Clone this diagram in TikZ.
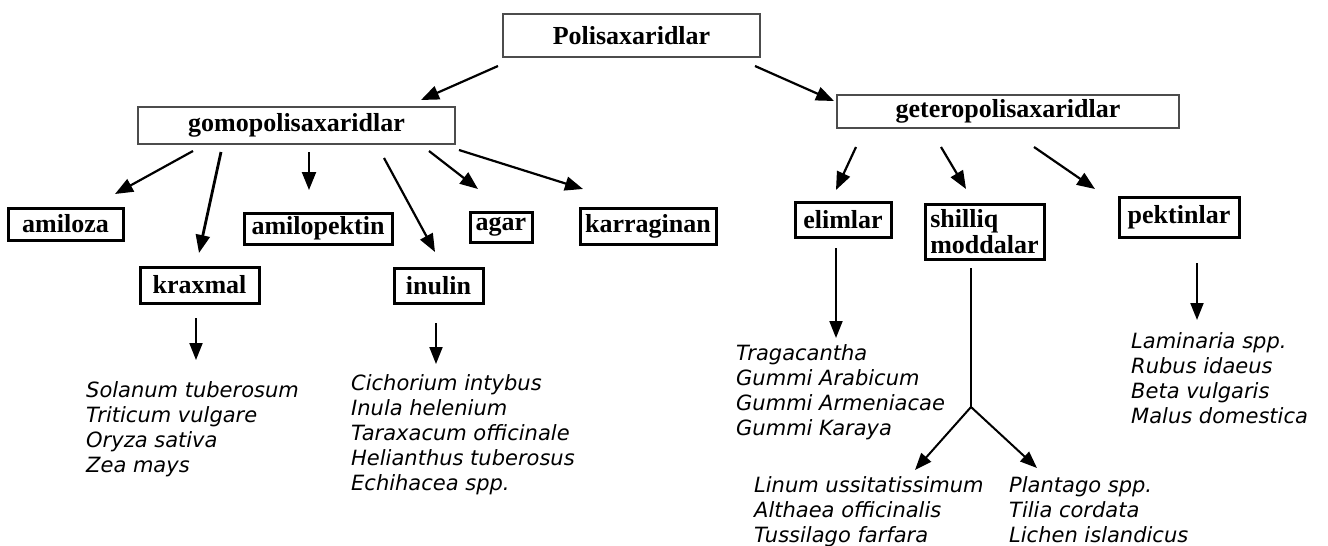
\documentclass[tikz,border=0pt]{standalone}
\usepackage{fontspec}
\setmainfont{Liberation Serif}
\newfontfamily\listfont{DejaVu Sans}
\usetikzlibrary{arrows.meta}
\begin{document}
\begin{tikzpicture}[x=1pt,y=-1pt,
  topbox/.style={draw=black!70, line width=1.8pt, inner sep=0pt, font=\fontsize{26}{30}\selectfont\bfseries},
  leafbox/.style={draw=black, line width=3pt, inner sep=0pt, font=\fontsize{26}{26}\selectfont\bfseries},
  species/.style={anchor=north west, inner sep=0pt, align=left, font=\listfont\itshape\fontsize{21}{25}\selectfont},
  arr/.style={-{Triangle[length=18pt,width=14pt]}, line width=2.2pt},
  arrs/.style={-{Triangle[length=17pt,width=13pt]}, line width=2pt}]
\useasboundingbox (0,0) rectangle (1328,546);

% main boxes
\node[topbox, minimum width=257pt, minimum height=43pt] (poli) at (631.5,35.5) {Polisaxaridlar};
\node[topbox, minimum width=317pt, minimum height=37pt] (gomo) at (296.5,125.5) {gomopolisaxaridlar};
\node[topbox, minimum width=342pt, minimum height=33pt] (getero) at (1008,111.5) {geteropolisaxaridlar};

% leaf boxes
\node[leafbox, minimum width=115pt, minimum height=32pt] (amiloza) at (65.5,224) {amiloza};
\node[leafbox, minimum width=119pt, minimum height=36pt] (kraxmal) at (199.5,285) {kraxmal};
\node[leafbox, minimum width=148pt, minimum height=31pt] (amilopektin) at (318,228.5) {amilopektin};
\node[leafbox, minimum width=89pt, minimum height=35pt] (inulin) at (438.5,285.5) {inulin};
\node[leafbox, minimum width=62pt, minimum height=30pt] (agar) at (501,227) {agar};
\node[leafbox, minimum width=136pt, minimum height=36pt] (karraginan) at (648,226) {karraginan};
\node[leafbox, minimum width=96pt, minimum height=35pt] (elimlar) at (843,219.5) {elimlar};
\node[leafbox, minimum width=119pt, minimum height=55pt, align=left] (shilliq) at (984.5,231.5) {shilliq\\moddalar};
\node[leafbox, minimum width=120pt, minimum height=40pt] (pektinlar) at (1179,217) {pektinlar};

% species lists
\node[species] (solanum) at (86,381) {Solanum tuberosum\\Triticum vulgare\\Oryza sativa\\Zea mays};
\node[species] (cichorium) at (351,374) {Cichorium intybus\\Inula helenium\\Taraxacum officinale\\Helianthus tuberosus\\Echihacea spp.};
\node[species] (tragacantha) at (736,344) {Tragacantha\\Gummi Arabicum\\Gummi Armeniacae\\Gummi Karaya};
\node[species] (laminaria) at (1131,332) {Laminaria spp.\\Rubus idaeus\\Beta vulgaris\\Malus domestica};
\node[species] (linum) at (754,476) {Linum ussitatissimum\\Althaea officinalis\\Tussilago farfara};
\node[species] (plantago) at (1009,476) {Plantago spp.\\Tilia cordata\\Lichen islandicus};

% connector end points
\coordinate (p1) at (498,66);   \coordinate (gomoT) at (421,100);
\coordinate (p2) at (755,66);   \coordinate (geteroT) at (834,101);
\coordinate (g1) at (193,151);  \coordinate (amilozaT) at (115,194);
\coordinate (g2) at (221,152);  \coordinate (kraxmalT) at (199,253);
\coordinate (g3) at (309,152);  \coordinate (amilopektinT) at (309,190);
\coordinate (g4) at (384,158);  \coordinate (inulinT) at (435,252);
\coordinate (g5) at (429,151);  \coordinate (agarT) at (478,189);
\coordinate (g6) at (459,150);  \coordinate (karraginanT) at (583,189);
\coordinate (h1) at (856,147);  \coordinate (elimlarT) at (836,190);
\coordinate (h2) at (941,147);  \coordinate (shilliqT) at (966,189);
\coordinate (h3) at (1034,147); \coordinate (pektinlarT) at (1095,189);
\coordinate (k1) at (196,318);  \coordinate (solanumT) at (196,360);
\coordinate (i1) at (436,323);  \coordinate (cichoriumT) at (436,364);
\coordinate (e1) at (836,248);  \coordinate (tragacanthaT) at (836,338);
\coordinate (s1) at (971,268);  \coordinate (fork) at (971,407);
\coordinate (linumT) at (915,470); \coordinate (plantagoT) at (1037,468);
\coordinate (q1) at (1197,263); \coordinate (laminariaT) at (1197,320);

% connectors
\draw[arr] (p1) -- (gomoT);
\draw[arr] (p2) -- (geteroT);
\draw[arr] (g1) -- (amilozaT);
\draw[arr, line width=2.8pt] (g2) -- (kraxmalT);
\draw[arr] (g3) -- (amilopektinT);
\draw[arr] (g4) -- (inulinT);
\draw[arr] (g5) -- (agarT);
\draw[arr] (g6) -- (karraginanT);
\draw[arr] (h1) -- (elimlarT);
\draw[arr] (h2) -- (shilliqT);
\draw[arr] (h3) -- (pektinlarT);
\draw[arrs] (k1) -- (solanumT);
\draw[arrs] (i1) -- (cichoriumT);
\draw[arrs] (e1) -- (tragacanthaT);
\draw[line width=2pt] (s1) -- (fork);
\draw[arrs] (fork) -- (linumT);
\draw[arrs] (fork) -- (plantagoT);
\draw[arrs] (q1) -- (laminariaT);
\end{tikzpicture}
\end{document}
